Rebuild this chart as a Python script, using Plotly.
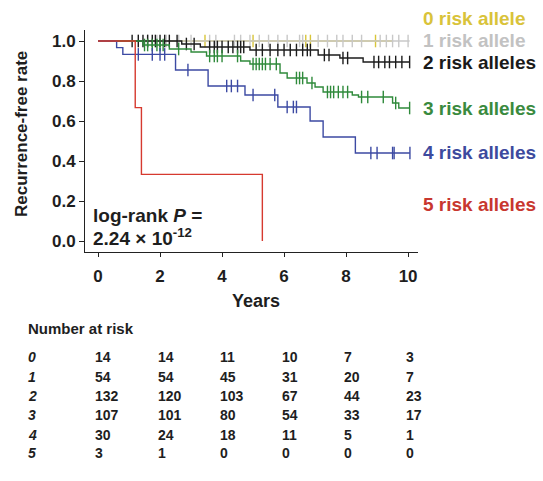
import numpy as np
import plotly.graph_objects as go

W, H = 543, 481

# ---------------- data ----------------
group_names = ["0 risk allele", "1 risk allele", "2 risk alleles",
               "3 risk alleles", "4 risk alleles", "5 risk alleles"]

# Kaplan-Meier step data: event times and survival after each event, plus follow-up end
km0_events, km0_surv, km0_end = [], [], 9.5
km0_cens = [3.45, 5.0, 6.7, 6.85, 8.95]

km1_events, km1_surv, km1_end = [], [], 10.05
km1_cens = [1.3, 1.6, 1.9, 2.2, 2.6, 3.0, 3.6, 3.8, 4.4, 4.6, 4.9, 5.2, 5.5, 5.8,
            6.1, 6.5, 6.6, 7.1, 7.4, 7.7, 7.9, 8.2, 8.5, 9.1, 9.3, 9.5, 9.7, 10.0]

km2_events = [2.7, 3.3, 4.9, 7.1, 7.8, 8.55]
km2_surv = [0.985, 0.97, 0.955, 0.93, 0.915, 0.895]
km2_end = 10.05
km2_cens = [1.1, 1.3, 1.45, 1.6, 1.75, 1.85, 2.0, 2.15, 2.3, 2.55, 2.85, 3.1,
            3.6, 3.75, 3.85, 4.0, 4.2, 4.35, 4.5, 4.6, 4.7, 5.1, 5.3, 5.55, 5.8,
            6.0, 6.2, 6.4, 6.6, 6.75, 6.85, 7.3, 7.45, 7.9, 8.05, 8.9, 9.05,
            9.25, 9.4, 9.6, 9.8, 10.05]

km3_events = [1.45, 2.3, 3.0, 3.5, 4.6, 4.9, 5.87, 6.1, 6.74, 7.0, 7.26, 8.2, 8.4, 9.5, 9.7]
km3_surv = [0.98, 0.96, 0.945, 0.925, 0.9, 0.885, 0.84, 0.815, 0.79, 0.77, 0.745,
            0.73, 0.72, 0.69, 0.665]
km3_end = 10.05
km3_cens = [1.5, 1.6, 1.75, 1.9, 2.0, 2.1, 2.6, 3.6, 3.75, 3.85, 4.0, 4.5,
            5.0, 5.1, 5.2, 5.3, 5.4, 5.55, 5.75, 6.4, 6.5, 6.6, 6.9,
            7.4, 7.5, 7.6, 7.75, 7.9, 8.05, 8.5, 8.7, 9.2, 9.6, 10.05]

km4_events = [0.6, 0.8, 2.5, 3.55, 4.74, 5.8, 6.84, 7.26, 8.3]
km4_surv = [0.967, 0.933, 0.855, 0.775, 0.73, 0.67, 0.60, 0.52, 0.44]
km4_end = 10.06
km4_cens = [1.3, 1.75, 2.0, 2.15, 2.9, 4.15, 4.3, 4.5, 5.0, 5.7, 6.1, 6.3, 6.4,
            8.8, 9.0, 9.5, 9.55, 10.06]

km5_events = [1.2, 1.4, 5.3]
km5_surv = [0.667, 0.333, 0.0]
km5_end = 5.3
km5_cens = []

x_ticks = [0, 2, 4, 6, 8, 10]
y_ticks = [0.0, 0.2, 0.4, 0.6, 0.8, 1.0]

# number at risk table
risk_rows = ["0", "1", "2", "3", "4", "5"]
risk_0 = [14, 14, 11, 10, 7, 3]
risk_1 = [54, 54, 45, 31, 20, 7]
risk_2 = [132, 120, 103, 67, 44, 23]
risk_3 = [107, 101, 80, 54, 33, 17]
risk_4 = [30, 24, 18, 11, 5, 1]
risk_5 = [3, 1, 0, 0, 0, 0]

pval_line1 = "log-rank <i>P</i> ="
pval_line2 = "2.24 × 10<sup>-12</sup>"

# ---------------- styling ----------------
colors = ["#d8c53a", "#c8c8c8", "#1c1c1c", "#2f8a3b", "#3c4aa3", "#d63a2f"]
label_colors = ["#d9c33a", "#c2c2c2", "#1a1a1a", "#3a8a3e", "#3d4a9e", "#c8372f"]
FONT = "Liberation Sans, Arial, sans-serif"
TXT = "#1e1e1e"


def px_x(p):
    return p / W


def px_y(p):
    return 1 - p / H


fig = go.Figure()

curves = [
    (km0_events, km0_surv, km0_end, km0_cens),
    (km1_events, km1_surv, km1_end, km1_cens),
    (km2_events, km2_surv, km2_end, km2_cens),
    (km3_events, km3_surv, km3_end, km3_cens),
    (km4_events, km4_surv, km4_end, km4_cens),
    (km5_events, km5_surv, km5_end, km5_cens),
]

for i, (ev, sv, end, cens) in enumerate(curves):
    xs = [0.0] + list(ev)
    ys = [1.0] + list(sv)
    if end > xs[-1]:
        xs.append(end)
        ys.append(ys[-1])
    fig.add_trace(go.Scatter(x=xs, y=ys, mode="lines", line=dict(color=colors[i], width=1.4, shape="hv"),
                             showlegend=False, hoverinfo="skip"))
    if cens:
        ev_arr = np.array(ev, dtype=float)
        sv_arr = np.array([1.0] + list(sv))
        idx = np.searchsorted(ev_arr, np.array(cens), side="right")
        cy = sv_arr[idx]
        fig.add_trace(go.Scatter(x=cens, y=cy, mode="markers",
                                 marker=dict(symbol="line-ns", size=9,
                                             line=dict(color=colors[i], width=1.4)),
                                 showlegend=False, hoverinfo="skip"))

annotations = []

# group labels on the right
label_y = [18, 41, 62, 108, 153, 205]
for name, c, yy in zip(group_names, label_colors, label_y):
    annotations.append(dict(text=name, x=px_x(421), y=px_y(yy), xref="paper", yref="paper",
                            xanchor="left", yanchor="middle", showarrow=False,
                            font=dict(family=FONT, size=19, color=c, weight="bold")))

# p value
annotations.append(dict(text=pval_line1, x=px_x(91), y=px_y(215), xref="paper", yref="paper",
                        xanchor="left", yanchor="middle", showarrow=False,
                        font=dict(family=FONT, size=19, color=TXT, weight="bold")))
annotations.append(dict(text=pval_line2, x=px_x(91), y=px_y(237), xref="paper", yref="paper",
                        xanchor="left", yanchor="middle", showarrow=False,
                        font=dict(family=FONT, size=19, color=TXT, weight="bold")))

# axis titles
annotations.append(dict(text="Years", x=px_x(256), y=px_y(301), xref="paper", yref="paper",
                        xanchor="center", yanchor="middle", showarrow=False,
                        font=dict(family=FONT, size=18, color=TXT, weight="bold")))
annotations.append(dict(text="Recurrence-free rate", x=px_x(21), y=px_y(134), xref="paper", yref="paper",
                        xanchor="center", yanchor="middle", showarrow=False, textangle=-90,
                        font=dict(family=FONT, size=17, color=TXT, weight="bold")))

# number at risk table
annotations.append(dict(text="Number at risk", x=px_x(26), y=px_y(328), xref="paper", yref="paper",
                        xanchor="left", yanchor="middle", showarrow=False,
                        font=dict(family=FONT, size=15, color=TXT, weight="bold")))
row_y = [357, 377, 396, 415, 435, 453]
col_x = [93, 156, 218, 280, 342, 404]
risk_table = [risk_0, risk_1, risk_2, risk_3, risk_4, risk_5]
for lab, vals, yy in zip(risk_rows, risk_table, row_y):
    annotations.append(dict(text="<i>" + lab + "</i>", x=px_x(26), y=px_y(yy), xref="paper", yref="paper",
                            xanchor="left", yanchor="middle", showarrow=False,
                            font=dict(family=FONT, size=14, color=TXT, weight="bold")))
    for v, xx in zip(vals, col_x):
        annotations.append(dict(text=str(v), x=px_x(xx), y=px_y(yy), xref="paper", yref="paper",
                                xanchor="left", yanchor="middle", showarrow=False,
                                font=dict(family=FONT, size=14, color=TXT, weight="bold")))

fig.update_layout(
    width=W, height=H,
    margin=dict(l=0, r=0, t=0, b=0),
    paper_bgcolor="white", plot_bgcolor="white",
    annotations=annotations,
    xaxis=dict(domain=[px_x(85), px_x(418)], range=[-0.42, 10.32],
               tickvals=x_ticks, ticktext=[str(v) for v in x_ticks],
               showline=True, linecolor="#222", linewidth=1, ticks="outside", ticklen=4,
               tickcolor="#222", showgrid=False, zeroline=False, ticklabelstandoff=5,
               tickfont=dict(family=FONT, size=17, color=TXT, weight="bold")),
    yaxis=dict(domain=[px_y(252), px_y(30)], range=[-0.055, 1.055],
               tickvals=y_ticks, ticktext=["%.1f" % v for v in y_ticks],
               showline=True, linecolor="#222", linewidth=1, ticks="outside", ticklen=5,
               tickcolor="#222", showgrid=False, zeroline=False,
               tickfont=dict(family=FONT, size=17, color=TXT, weight="bold")),
)

fig.write_html("out.html", config={"displayModeBar": False},
               post_script="document.body.style.margin='0';document.body.style.padding='0';")
